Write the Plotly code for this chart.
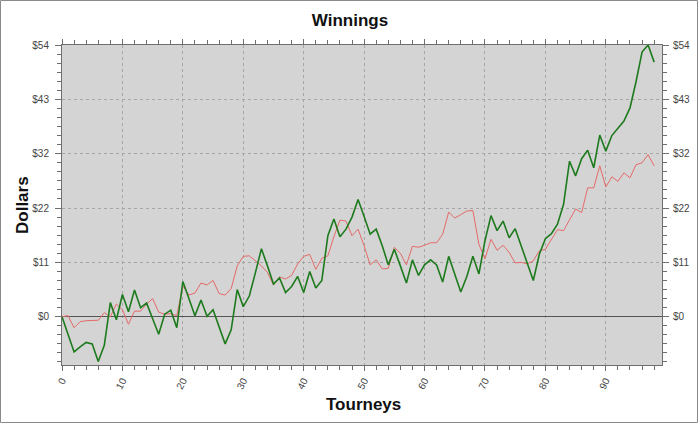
import plotly.graph_objects as go

tourneys = list(range(99))

green_winnings = [
    0.0, -3.5, -7.0, -6.0, -5.1, -5.4, -8.9, -5.7, 2.8, -0.6,
    4.4, 1.0, 5.3, 1.8, 2.7, -0.4, -3.5, 0.5, 1.3, -2.2,
    7.0, 3.6, 0.2, 3.3, 0.1, 1.4, -2.0, -5.4, -2.6, 5.4,
    2.0, 4.1, 8.7, 13.5, 10.1, 6.5, 7.7, 4.8, 6.0, 8.0,
    4.8, 9.0, 5.7, 7.2, 16.1, 19.4, 15.9, 17.4, 19.8, 23.3,
    19.9, 16.4, 17.4, 14.1, 10.3, 13.4, 10.1, 6.7, 11.3, 8.2,
    10.3, 11.3, 10.3, 6.9, 12.0, 8.5, 4.9, 8.0, 12.0, 8.5,
    15.1, 20.1, 17.1, 19.0, 15.7, 17.5, 14.0, 10.5, 7.2, 12.4,
    15.5, 16.5, 18.4, 22.3, 30.9, 28.0, 31.4, 33.1, 29.6, 36.1,
    32.9, 36.0, 37.5, 38.9, 41.5, 46.7, 52.6, 54.0, 50.6,
]

red_winnings = [
    0.0, 0.2, -2.2, -1.0, -0.8, -0.8, -0.7, 0.8, 0.0, 2.5,
    1.4, -1.5, 1.1, 1.1, 2.5, 3.6, 0.9, 0.5, 0.6, 0.2,
    6.1, 4.3, 4.7, 6.7, 6.3, 7.2, 4.6, 4.3, 5.6, 10.1,
    12.0, 12.1, 11.1, 10.1, 8.8, 6.3, 7.9, 7.5, 8.2, 10.5,
    12.0, 12.4, 9.4, 11.6, 12.1, 15.9, 19.2, 19.0, 16.1, 17.4,
    14.1, 10.3, 11.3, 9.5, 9.6, 13.8, 12.6, 10.3, 14.0, 13.8,
    14.2, 14.7, 14.7, 16.4, 20.8, 19.6, 20.3, 21.0, 21.1, 14.4,
    11.5, 15.4, 13.2, 14.2, 12.8, 10.7, 10.8, 10.5, 11.1, 13.1,
    13.4, 15.3, 17.3, 17.1, 19.2, 21.4, 20.7, 25.6, 25.6, 30.0,
    25.8, 27.8, 26.9, 28.6, 27.6, 30.2, 30.6, 32.2, 30.0,
]

ytick_vals = [0, 10.8, 21.6, 32.4, 43.2, 54]
ytick_text = ["$0", "$11", "$22", "$32", "$43", "$54"]

FONT = "Liberation Sans, Arial, sans-serif"
AXIS_COLOR = "#6e6e6e"
GRID_COLOR = "#a6a6a6"
y_range = [-9.6, 54]
x_range = [0, 99.3]

fig = go.Figure()
fig.add_trace(go.Scatter(x=tourneys, y=red_winnings, mode="lines",
                         line=dict(color="#e46a68", width=1),
                         showlegend=False, hoverinfo="skip"))
fig.add_trace(go.Scatter(x=tourneys, y=green_winnings, mode="lines",
                         line=dict(color="#1d7a1d", width=1.6),
                         showlegend=False, hoverinfo="skip"))
# helper trace to anchor the right axis
fig.add_trace(go.Scatter(x=[tourneys[0]], y=[0], mode="lines", yaxis="y2",
                         line=dict(width=0), showlegend=False, hoverinfo="skip"))

tickfont = dict(family=FONT, size=10, color="#444444")
titlefont = dict(family=FONT, size=17, color="#111111")

fig.update_layout(
    width=700, height=425,
    margin=dict(l=62, r=38, t=45, b=60, autoexpand=False),
    paper_bgcolor="white",
    plot_bgcolor="#d4d4d4",
    title=dict(text="<b>Winnings</b>", x=0.5, xanchor="center", y=1 - 20 / 425, yanchor="middle",
               font=titlefont),
    xaxis=dict(
        range=x_range, tickmode="linear", tick0=0, dtick=10,
        ticks="outside", ticklen=5, tickcolor=AXIS_COLOR, tickangle=-62,
        tickfont=tickfont, automargin=False,
        showline=True, linecolor=AXIS_COLOR, linewidth=1, mirror="ticks",
        showgrid=True, gridcolor=GRID_COLOR, griddash="dot", gridwidth=1,
        zeroline=False,
        minor=dict(tickmode="linear", tick0=0, dtick=2, ticks="outside", ticklen=4,
                   tickcolor=AXIS_COLOR, showgrid=False),
    ),
    yaxis=dict(
        range=y_range, tickmode="array", tickvals=ytick_vals, ticktext=ytick_text,
        ticks="outside", ticklen=6, tickcolor=AXIS_COLOR, tickfont=tickfont,
        ticklabelstandoff=4, automargin=False,
        showline=True, linecolor=AXIS_COLOR, linewidth=1,
        showgrid=True, gridcolor=GRID_COLOR, griddash="dot", gridwidth=1,
        zeroline=True, zerolinecolor="#555555", zerolinewidth=1,
        minor=dict(tickmode="linear", tick0=0, dtick=1.8, ticks="outside", ticklen=4,
                   tickcolor=AXIS_COLOR, showgrid=False),
    ),
    yaxis2=dict(
        range=y_range, overlaying="y", side="right",
        tickmode="array", tickvals=ytick_vals, ticktext=ytick_text,
        ticks="outside", ticklen=6, tickcolor=AXIS_COLOR, tickfont=tickfont,
        ticklabelstandoff=2, automargin=False,
        showline=True, linecolor=AXIS_COLOR, linewidth=1,
        showgrid=False, zeroline=False,
        minor=dict(tickmode="linear", tick0=0, dtick=1.8, ticks="outside", ticklen=4,
                   tickcolor=AXIS_COLOR, showgrid=False),
    ),
    annotations=[
        dict(text="<b>Dollars</b>", xref="paper", yref="paper",
             x=(22 - 62) / 600, y=0.5, xanchor="center", yanchor="middle",
             textangle=-90, showarrow=False, font=titlefont),
        dict(text="<b>Tourneys</b>", xref="paper", yref="paper",
             x=(363 - 62) / 600, y=-(404 - 365) / 320, xanchor="center", yanchor="middle",
             showarrow=False, font=titlefont),
    ],
    shapes=[dict(type="rect", xref="paper", yref="paper",
                 x0=-61.5 / 600, x1=1 + 35.5 / 600, y0=-57.5 / 320, y1=1 + 44.5 / 320,
                 line=dict(color="#8a8a8a", width=1), fillcolor="rgba(0,0,0,0)",
                 layer="below")],
)

fig.write_html("out.html", config={"displayModeBar": False},
               post_script="document.body.style.margin='0';")
